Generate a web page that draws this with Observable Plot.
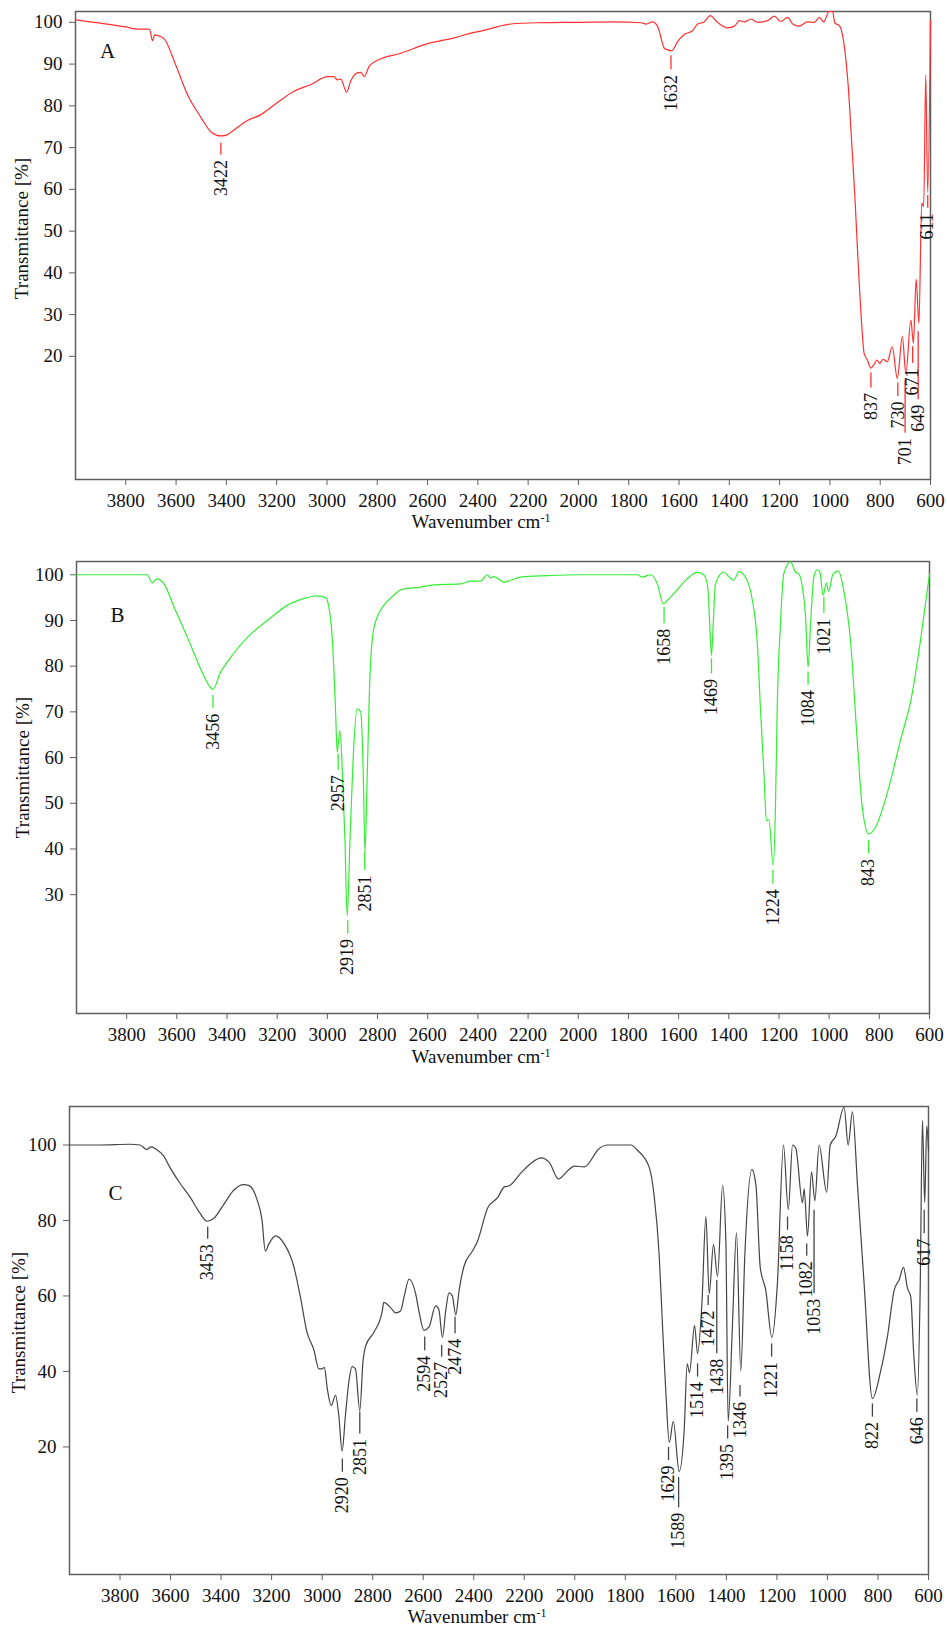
<!DOCTYPE html>
<html><head><meta charset="utf-8">
<script src="https://cdn.jsdelivr.net/npm/d3@7"></script>
<script src="https://cdn.jsdelivr.net/npm/@observablehq/plot@0.6"></script>
<style>
body{margin:0;background:#fff;}
#chart{width:947px;}
#chart svg{display:block;font-family:"Liberation Serif",serif;}
#chart svg text{font-family:"Liberation Serif",serif;}
</style></head><body><div id="chart"></div>
<script>
// ---- shared tick values ----
const xTicks = [3800,3600,3400,3200,3000,2800,2600,2400,2200,2000,1800,1600,1400,1200,1000,800,600];
const yTicksA = [20,30,40,50,60,70,80,90,100];
const yTicksB = [30,40,50,60,70,80,90,100];
const yTicksC = [20,40,60,80,100];

// ---- Spectrum A ----
const waveA = [
 4000,3899,3800,3754,3714,3705,3694,3685,3677,3648,
 3601,3555,3502,3462,3440,3422,3400,3382,3316,3263,
 3197,3131,3064,2998,2972,2958,2945,2922,2905,2879,
 2865,2852,2832,2799,2706,2600,2494,2428,2388,2269,
 2163,2000,1857,1751,1731,1705,1685,1658,1645,1629,
 1606,1579,1546,1526,1500,1476,1447,1407,1380,1360,
 1340,1314,1287,1248,1221,1195,1168,1148,1122,1089,
 1062,1042,1025,1003,989,981,961,941,927,914,
 900,887,873,864,850,837,825,813,802,789,
 772,752,732,712,698,678,668,657,646,635,
 627,619,611,600];
const transA = [
 100.6,99.8,98.9,98.4,98.4,98.3,95.6,97,96.9,96.1,
 89.7,82.7,77.3,73.8,73,72.8,73,73.7,76.5,77.9,
 80.8,83.5,85.1,87,87,86.2,86.4,83.3,86,87.9,
 88,87,89.5,90.9,92.6,94.9,96.3,97.4,97.9,99.6,
 99.9,100,100.1,99.9,99.6,100.1,99,93.8,93.4,93.2,
 95.4,97.1,98,99.6,100.1,101.6,100,98.7,99.1,100.4,
 100.1,100.8,100,100.4,101.5,100.2,101.2,99.6,99.1,100.1,
 100,101.2,100.1,102.6,102.6,99.9,99.1,93.4,84.6,71.8,
 57.5,41.5,27.1,20.7,19,17.2,18,19.1,18.3,19.3,
 18.7,22.3,14.7,24.7,15.9,28.7,23.1,38.5,27.9,56.7,
 55.9,87.4,59.2,100.5];
const peaksA      = [3422,1632,837,730,701,671,649,611];
const lineTopA    = [71.1,92.0,16.0,13.6,14.3,22.3,25.9,58.5];
const lineBottomA = [68.2,88.6,12.4,10.4,1.6,18.3,9.6,55.5];

// ---- Spectrum B ----
const waveB = [
 4000,3718,3698,3680,3651,3611,3558,3505,3472,3456,
 3426,3399,3319,3239,3160,3080,3040,3007,2994,2980,
 2967,2961,2950,2940,2930,2921,2910,2897,2881,2867,
 2857,2850,2841,2830,2814,2775,2735,2708,2628,2575,
 2469,2429,2389,2363,2350,2336,2296,2230,2124,2004,
 1765,1745,1712,1685,1661,1645,1606,1566,1526,1500,
 1484,1476,1469,1462,1453,1420,1400,1380,1360,1334,
 1307,1287,1274,1260,1250,1240,1223,1214,1207,1194,
 1181,1154,1134,1121,1108,1094,1084,1074,1061,1048,
 1037,1024,1011,1002,985,963,942,915,888,868,
 842,815,769,716,669,636,600];
const transB = [
 100,100,98.2,99.1,98,92.9,86.3,79.4,75.8,74.9,
 78.7,80.9,86.3,90,93.3,95,95.4,95,92.9,85.6,
 69.6,61.2,65.9,56.5,41.9,25.4,41.9,60.1,70.7,70,
 56.5,39.3,56.5,78.3,88.5,93.3,95.5,96.7,97.3,97.8,
 98,98.6,98.6,100,99.3,99.6,98.4,99.5,99.8,100,
 100,99.5,100,98,93.6,94.4,96.7,99.1,100.5,100,
 97.3,89.3,82.3,89.3,98,100.6,99.6,98.8,100.7,99.5,
 94.7,85.6,71,56.5,46.2,46.3,36.4,49.1,71,89.3,
 100.2,102.8,100.6,100.2,97.7,90.7,79.8,89.3,99.5,101.1,
 100.6,95.5,98.2,96.4,100.1,100.8,96.6,85.6,63.7,49.1,
 43.3,44.8,52.1,63.7,74,85.6,100.2];
const peaksB      = [3456,2957,2919,2851,1658,1469,1224,1084,1021,843];
const lineTopB    = [73.6,60.8,24.3,39.3,92.9,81.6,35.3,78.7,95.1,41.8];
const lineBottomB = [70.7,57.2,21.4,35.3,89.3,78.3,32.3,75.8,91.5,38.9];

// ---- Spectrum C ----
const waveC = [
 4000,3879,3760,3721,3694,3678,3655,3628,3602,3562,
 3522,3483,3456,3430,3390,3350,3311,3291,3258,3238,
 3225,3212,3185,3152,3113,3086,3060,3033,3013,3000,
 2991,2980,2964,2947,2934,2921,2908,2894,2881,2868,
 2851,2838,2828,2795,2762,2756,2729,2709,2690,2676,
 2656,2630,2617,2597,2577,2551,2538,2524,2511,2498,
 2485,2471,2458,2438,2405,2385,2345,2305,2279,2259,
 2213,2174,2134,2101,2065,2028,2002,1962,1903,1870,
 1778,1752,1705,1686,1666,1653,1639,1626,1610,1587,
 1567,1555,1546,1526,1514,1497,1481,1468,1451,1435,
 1415,1402,1393,1376,1360,1343,1327,1299,1283,1266,
 1244,1220,1198,1174,1155,1138,1125,1099,1092,1079,
 1063,1050,1033,1003,989,967,934,918,901,881,
 855,822,789,762,736,716,699,683,670,659,
 644,633,624,615,607,600];
const transC = [
 100,100,100.2,100,98.8,99.5,98.8,97.2,94,89.8,
 86.1,81.9,79.8,80.5,84.2,88,89.5,89.3,85.6,80.1,
 71.9,73.6,75.9,74,68,59.7,50.4,45.8,40.7,40.7,
 41.1,35.6,31,33.7,28.2,18.9,28.2,37.4,41.3,40.7,
 29.6,43,46.7,50.4,56,58.3,56.9,55.5,56,59.7,
 64.5,60.6,56,50.9,51.8,57.4,56.4,49,56,60.8,
 60.1,55,61.5,68,71.9,74.5,83.3,86.1,88.9,89.2,
 92.6,95.1,96.6,95.4,91,93.2,94.4,94.2,99.1,100,
 100,98.6,94,86.6,70.8,52.3,33.7,21.2,26.8,13.5,
 24.5,42,39.7,52.2,44.7,57.8,81,60.6,73.6,65.2,
 89.3,74.5,26.8,52.3,76.8,40.2,70.8,93.5,89.3,67.6,
 61.5,49,63.4,100,82.9,100,99.1,84.7,88.4,75.9,
 92.9,85.2,100,87.5,100,102.3,110,100,108.8,89.3,
 63.4,32.8,40.2,49.5,61.5,64.3,67.6,62,59.7,45.3,
 33.7,61.5,106.5,84.7,105.1,98.6];
const peaksC      = [3453,2920,2851,2594,2527,2474,1629,1589,1514,1472,1438,1395,1346,1221,1158,1082,1053,822,646,617];
const lineTopC    = [78.2,16.8,29.2,49.1,46.9,54.4,19.9,11.9,42,60.1,64.1,25.6,36.3,47.3,80.9,73.8,82.7,31.4,32.7,82.7];
const lineBottomC = [75,13.3,23.4,45.5,43.8,50,16.4,3.9,38.5,57.5,44.7,22.1,33.2,43.8,77.4,70.5,60.6,27.9,29.2,76.5];

const FONT = "Liberation Serif";
const AXIS = "#5f5f5f";
const INK = "#111";

function panel(o) {
  const curve = o.wave.map((w, i) => ({w, t: o.trans[i]}));
  const ann = o.peaks.map((p, i) => ({p, top: o.lineTop[i], bottom: o.lineBottom[i]}));
  const svg = Plot.plot({
    width: 947, height: o.height,
    marginTop: o.mt, marginBottom: o.mb, marginLeft: o.ml, marginRight: o.mr,
    style: {fontFamily: FONT, fontSize: "19px", color: AXIS, background: "#fff"},
    x: {domain: [4000, 600], ticks: xTicks, tickFormat: "d", tickSize: 6, tickPadding: 8, label: null},
    y: {domain: o.yDomain, ticks: o.yTicks, tickFormat: "d", tickSize: 6, tickPadding: 7, label: null},
    marks: [
      Plot.frame({stroke: AXIS, strokeWidth: 1.5}),
      Plot.line(curve, {x: "w", y: "t", stroke: o.color, strokeWidth: 1.2, curve: "monotone-x"}),
      Plot.ruleX(ann, {x: "p", y1: "top", y2: "bottom", stroke: o.color, strokeWidth: 1.3}),
      Plot.text(ann, {x: "p", y: "bottom", text: d => String(d.p), rotate: -90, textAnchor: "end", lineAnchor: "middle", dy: 5, fontSize: 18, fontFamily: FONT, fill: INK}),
      Plot.text([o.letter], {frameAnchor: "top-left", dx: o.letterDx, dy: o.letterDy, fontSize: 21, fontFamily: FONT, fill: INK, textAnchor: "middle", lineAnchor: "middle"}),
      Plot.text(["Transmittance [%]"], {frameAnchor: "left", rotate: -90, dx: o.ylDx, dy: o.ylDy, fontSize: 19, fontFamily: FONT, fill: INK, textAnchor: "middle", lineAnchor: "middle"}),
      Plot.text(["Wavenumber cm"], {frameAnchor: "bottom", dx: -22, dy: o.xlDy, fontSize: 19, fontFamily: FONT, fill: INK, textAnchor: "middle", lineAnchor: "middle"})
    ]
  });
  svg.setAttribute("font-family", FONT);
  svg.setAttribute("font-size", "19");
  const s = d3.select(svg);
  s.selectAll('[aria-label*="axis"] text').attr("fill", INK).attr("font-size", "19px");
  s.selectAll("text").attr("font-family", FONT);
  s.selectAll("text").filter(function(){ return this.textContent === "Wavenumber cm"; })
    .append("tspan").attr("dy", "-0.45em").attr("font-size", "12px").text("-1");
  document.getElementById("chart").appendChild(svg);
}

panel({wave: waveA, trans: transA, peaks: peaksA, lineTop: lineTopA, lineBottom: lineBottomA,
  color: "#ff3030", yDomain: [-9.5, 102.6], yTicks: yTicksA, letter: "A",
  height: 540, mt: 11, mb: 61, ml: 75, mr: 17, letterDx: 32, letterDy: 40, ylDx: -54, ylDy: -17, xlDy: 42});
panel({wave: waveB, trans: transB, peaks: peaksB, lineTop: lineTopB, lineBottom: lineBottomB,
  color: "#33ee33", yDomain: [4.0, 102.9], yTicks: yTicksB, letter: "B",
  height: 540, mt: 21, mb: 67, ml: 76, mr: 18, letterDx: 41, letterDy: 54, ylDx: -54, ylDy: -20, xlDy: 43});
panel({wave: waveC, trans: transC, peaks: peaksC, lineTop: lineTopC, lineBottom: lineBottomC,
  color: "#444", yDomain: [-13.8, 110.2], yTicks: yTicksC, letter: "C",
  height: 548, mt: 26, mb: 54, ml: 69, mr: 19, letterDx: 46, letterDy: 87, ylDx: -51, ylDy: -18, xlDy: 42});
</script>
</body></html>
